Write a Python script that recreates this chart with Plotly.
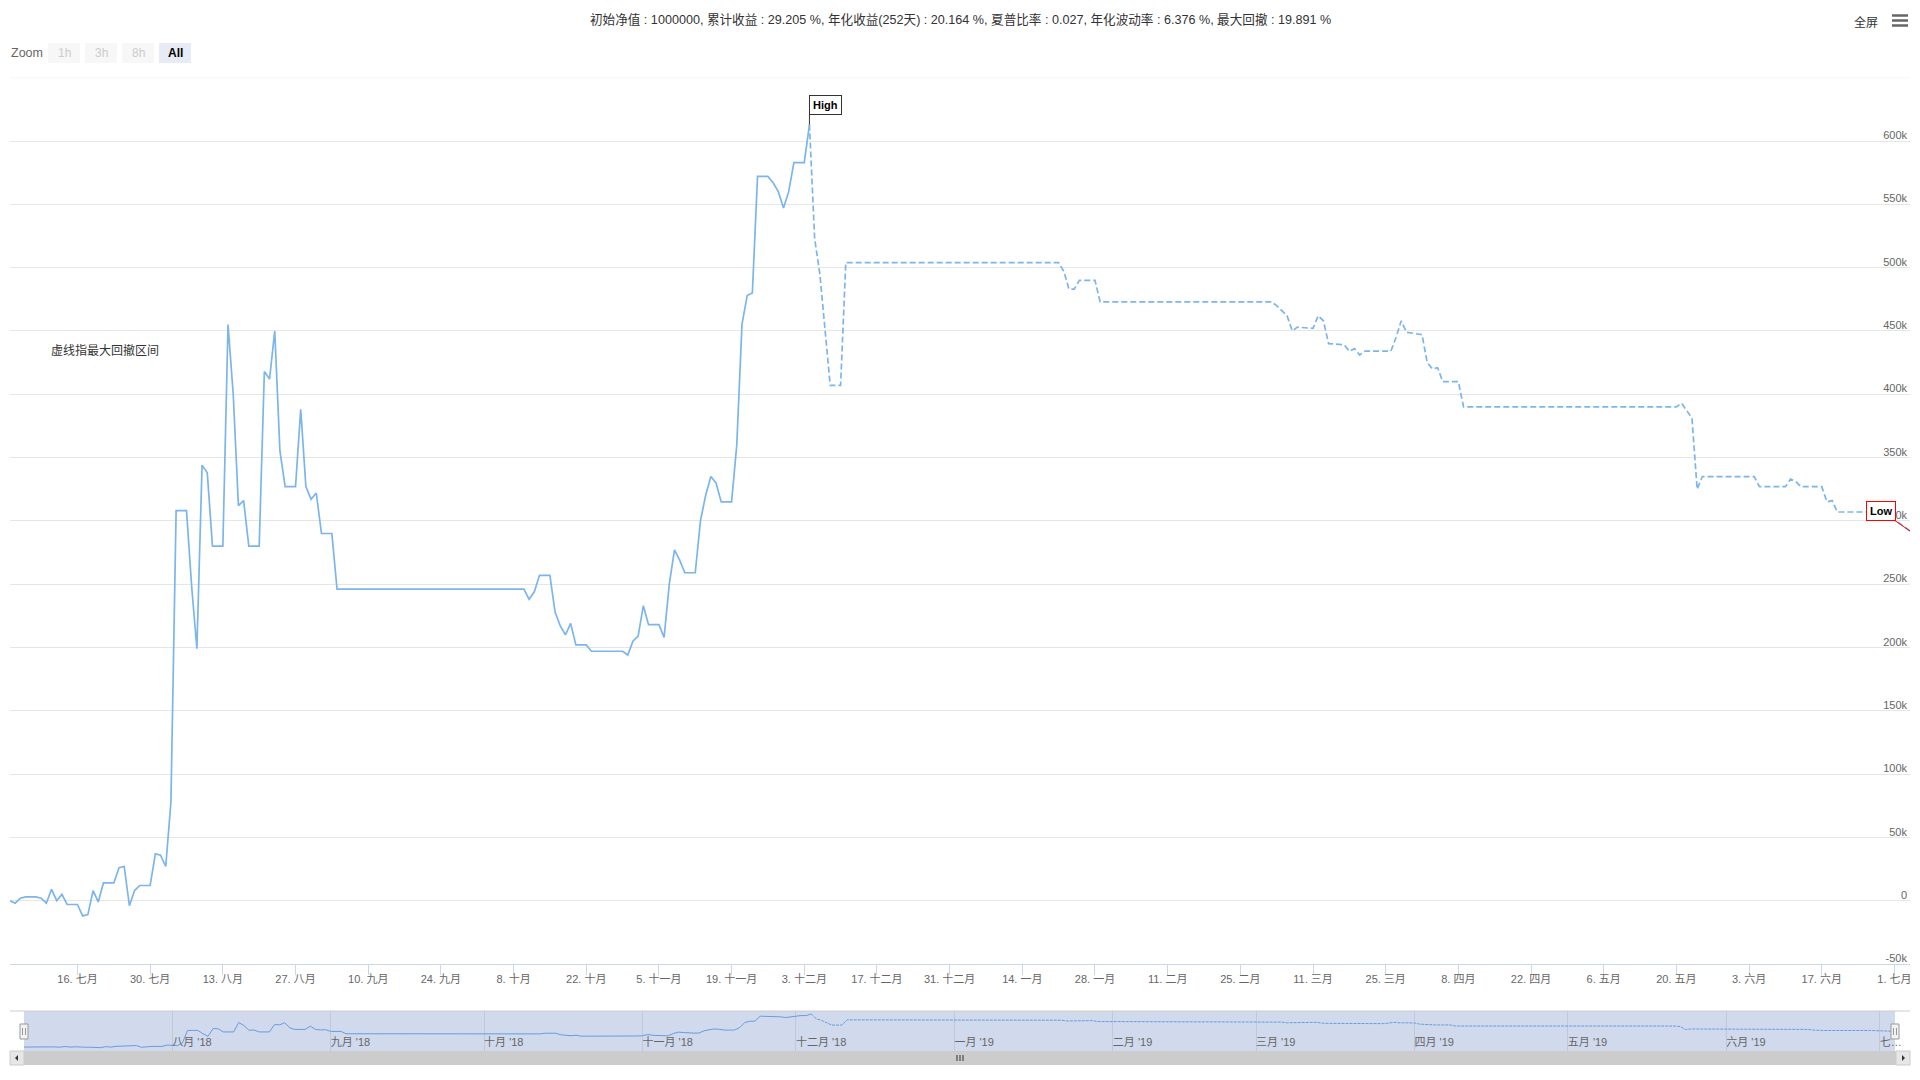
import plotly.graph_objects as go

# ---------------- data ----------------
dates = [
    "2018-07-03", "2018-07-04", "2018-07-05", "2018-07-06", "2018-07-07", "2018-07-08", "2018-07-09",
    "2018-07-10", "2018-07-11", "2018-07-12", "2018-07-13", "2018-07-14", "2018-07-15", "2018-07-16",
    "2018-07-17", "2018-07-18", "2018-07-19", "2018-07-20", "2018-07-21", "2018-07-22", "2018-07-23",
    "2018-07-24", "2018-07-25", "2018-07-26", "2018-07-27", "2018-07-28", "2018-07-29", "2018-07-30",
    "2018-07-31", "2018-08-01", "2018-08-02", "2018-08-03", "2018-08-04", "2018-08-05", "2018-08-06",
    "2018-08-07", "2018-08-08", "2018-08-09", "2018-08-10", "2018-08-11", "2018-08-12", "2018-08-13",
    "2018-08-14", "2018-08-15", "2018-08-16", "2018-08-17", "2018-08-18", "2018-08-19", "2018-08-20",
    "2018-08-21", "2018-08-22", "2018-08-23", "2018-08-24", "2018-08-25", "2018-08-26", "2018-08-27",
    "2018-08-28", "2018-08-29", "2018-08-30", "2018-08-31", "2018-09-01", "2018-09-02", "2018-09-03",
    "2018-09-04", "2018-10-10", "2018-10-11", "2018-10-12", "2018-10-13", "2018-10-14", "2018-10-15",
    "2018-10-16", "2018-10-17", "2018-10-18", "2018-10-19", "2018-10-20", "2018-10-21", "2018-10-22",
    "2018-10-23", "2018-10-29", "2018-10-30", "2018-10-31", "2018-11-01", "2018-11-02", "2018-11-03",
    "2018-11-04", "2018-11-05", "2018-11-06", "2018-11-07", "2018-11-08", "2018-11-09", "2018-11-10",
    "2018-11-11", "2018-11-12", "2018-11-13", "2018-11-14", "2018-11-15", "2018-11-16", "2018-11-17",
    "2018-11-18", "2018-11-19", "2018-11-20", "2018-11-21", "2018-11-22", "2018-11-23", "2018-11-24",
    "2018-11-25", "2018-11-26", "2018-11-27", "2018-11-28", "2018-11-29", "2018-11-30", "2018-12-01",
    "2018-12-02", "2018-12-03", "2018-12-04", "2018-12-05", "2018-12-06", "2018-12-07", "2018-12-08",
    "2018-12-09", "2018-12-10", "2018-12-11", "2019-01-21", "2019-01-22", "2019-01-23", "2019-01-24",
    "2019-01-25", "2019-01-28", "2019-01-29", "2019-03-03", "2019-03-04", "2019-03-05", "2019-03-06",
    "2019-03-07", "2019-03-08", "2019-03-11", "2019-03-12", "2019-03-13", "2019-03-14", "2019-03-17",
    "2019-03-18", "2019-03-19", "2019-03-20", "2019-03-21", "2019-03-26", "2019-03-27", "2019-03-28",
    "2019-03-29", "2019-04-01", "2019-04-02", "2019-04-03", "2019-04-04", "2019-04-05", "2019-04-08",
    "2019-04-09", "2019-05-20", "2019-05-21", "2019-05-22", "2019-05-23", "2019-05-24", "2019-05-25",
    "2019-06-04", "2019-06-05", "2019-06-10", "2019-06-11", "2019-06-12", "2019-06-13", "2019-06-17",
    "2019-06-18", "2019-06-19", "2019-06-20", "2019-06-29", "2019-06-30", "2019-07-01", "2019-07-02",
    "2019-07-03", "2019-07-04",
]
values = [
    0, -2000, 2000, 3000, 3000, 3000, 2000,
    -2000, 9000, 0, 5000, -3000, -3000, -3000,
    -12000, -11000, 8000, -1000, 14000, 14000, 14000,
    26000, 27000, -4000, 8000, 12000, 12000, 12000,
    37000, 36000, 27000, 78000, 308000, 308000, 308000,
    248000, 199000, 344000, 338000, 280000, 280000, 280000,
    455000, 400000, 312000, 316000, 280000, 280000, 280000,
    418000, 412000, 450000, 355000, 327000, 327000, 327000,
    388000, 327000, 317000, 322000, 290000, 290000, 290000,
    246000, 246000, 238000, 244000, 257000, 257000, 257000,
    228000, 217000, 210000, 219000, 202000, 202000, 202000,
    197000, 197000, 194000, 205000, 209000, 233000, 218000,
    218000, 218000, 208000, 250000, 277000, 269000, 259000,
    259000, 259000, 300000, 320000, 335000, 330000, 315000,
    315000, 315000, 360000, 455000, 478000, 480000, 572000,
    572000, 572000, 567000, 560000, 547000, 560000, 583000,
    583000, 583000, 613000, 523000, 495000, 450000, 407000,
    407000, 407000, 504000, 504000, 497000, 483000, 483000,
    490000, 490000, 473000, 473000, 470000, 466000, 462000,
    450000, 453000, 452000, 462000, 458000, 440000, 439000,
    434000, 436000, 431000, 434000, 434000, 445000, 458000,
    449000, 447000, 425000, 420000, 421000, 410000, 410000,
    390000, 390000, 393000, 387000, 381000, 325000, 335000,
    335000, 327000, 327000, 333000, 331000, 327000, 327000,
    315000, 316000, 307000, 307000, 305000, 301000, 298000,
    295000, 292000,
]

x_tick_dates = [
    "2018-07-16", "2018-07-30", "2018-08-13", "2018-08-27", "2018-09-10", "2018-09-24", "2018-10-08",
    "2018-10-22", "2018-11-05", "2018-11-19", "2018-12-03", "2018-12-17", "2018-12-31", "2019-01-14",
    "2019-01-28", "2019-02-11", "2019-02-25", "2019-03-11", "2019-03-25", "2019-04-08", "2019-04-22",
    "2019-05-06", "2019-05-20", "2019-06-03", "2019-06-17", "2019-07-01",
]
x_tick_labels = [
    "16. 七月", "30. 七月", "13. 八月", "27. 八月", "10. 九月", "24. 九月", "8. 十月",
    "22. 十月", "5. 十一月", "19. 十一月", "3. 十二月", "17. 十二月", "31. 十二月", "14. 一月",
    "28. 一月", "11. 二月", "25. 二月", "11. 三月", "25. 三月", "8. 四月", "22. 四月",
    "6. 五月", "20. 五月", "3. 六月", "17. 六月", "1. 七月",
]
y_tick_values = [-50000, 0, 50000, 100000, 150000, 200000, 250000, 300000, 350000,
                 400000, 450000, 500000, 550000, 600000, 650000]
y_tick_labels = ["-50k", "0", "50k", "100k", "150k", "200k", "250k", "300k", "350k",
                 "400k", "450k", "500k", "550k", "600k", ""]
nav_tick_dates = [
    "2018-08-01", "2018-09-01", "2018-10-01", "2018-11-01", "2018-12-01", "2019-01-01",
    "2019-02-01", "2019-03-01", "2019-04-01", "2019-05-01", "2019-06-01", "2019-07-01",
]
nav_tick_labels = [
    "八月 '18", "九月 '18", "十月 '18", "十一月 '18", "十二月 '18", "一月 '19",
    "二月 '19", "三月 '19", "四月 '19", "五月 '19", "六月 '19", "七…",
]
title_text = ("初始净值 : 1000000, 累计收益 : 29.205 %, 年化收益(252天) : 20.164 %, "
              "夏普比率 : 0.027, 年化波动率 : 6.376 %, 最大回撤 : 19.891 %")
note_text = "虚线指最大回撤区间"
zoom_buttons = ["1h", "3h", "8h", "All"]

# ---------------- helpers (pixel -> paper) ----------------
W, H = 1920, 1080
def px(x):
    return x / W
def py(y):
    return 1 - y / H

FONT = "Liberation Sans, Noto Sans CJK SC, sans-serif"
LINE = "#7cb5ec"

hi = values.index(max(values))
lo = len(values) - 1

fig = go.Figure()
# main series: solid until peak, dashed (max drawdown interval) after
fig.add_trace(go.Scatter(x=dates[:hi + 1], y=values[:hi + 1], mode="lines",
                         line=dict(color=LINE, width=1.7), xaxis="x", yaxis="y", hoverinfo="skip"))
fig.add_trace(go.Scatter(x=dates[hi:], y=values[hi:], mode="lines",
                         line=dict(color=LINE, width=1.7, dash="6px,3px"), xaxis="x", yaxis="y",
                         hoverinfo="skip"))
# navigator series
fig.add_trace(go.Scatter(x=dates[:hi + 1], y=values[:hi + 1], mode="lines",
                         line=dict(color="#6a9ae0", width=1), xaxis="x2", yaxis="y2", hoverinfo="skip"))
fig.add_trace(go.Scatter(x=dates[hi:], y=values[hi:], mode="lines",
                         line=dict(color="#6a9ae0", width=1, dash="3px,1px"), xaxis="x2", yaxis="y2",
                         hoverinfo="skip"))

shapes = []
annotations = []

# top gridline (range edge)
shapes.append(dict(type="line", xref="x domain", yref="y", x0=0, x1=1, y0=y_tick_values[-1],
                   y1=y_tick_values[-1], line=dict(color="#e6e6e6", width=1), layer="below"))

# navigator background mask
shapes.append(dict(type="rect", xref="x2 domain", yref="y2 domain", x0=0, x1=1, y0=0, y1=1,
                   fillcolor="#d1daed", line=dict(width=0), layer="below"))
# navigator outline top
shapes.append(dict(type="line", xref="paper", yref="paper", x0=px(10), x1=px(1910), y0=py(1011), y1=py(1011),
                   line=dict(color="#cccccc", width=1)))
# scrollbar
shapes.append(dict(type="rect", xref="paper", yref="paper", x0=px(10), x1=px(1910), y0=py(1065), y1=py(1051),
                   fillcolor="#f2f2f2", line=dict(width=0)))
shapes.append(dict(type="rect", xref="paper", yref="paper", x0=px(24), x1=px(1896), y0=py(1065), y1=py(1051),
                   fillcolor="#cccccc", line=dict(width=0)))
for bx0, bx1 in ((10, 24), (1896, 1910)):
    shapes.append(dict(type="rect", xref="paper", yref="paper", x0=px(bx0), x1=px(bx1), y0=py(1065), y1=py(1051),
                       fillcolor="#e6e6e6", line=dict(color="#cccccc", width=1)))
# scrollbar arrows
shapes.append(dict(type="path", xref="paper", yref="paper",
                   path=f"M{px(15)},{py(1058)} L{px(18)},{py(1055)} L{px(18)},{py(1061)} Z",
                   fillcolor="#333333", line=dict(width=0)))
shapes.append(dict(type="path", xref="paper", yref="paper",
                   path=f"M{px(1905)},{py(1058)} L{px(1902)},{py(1055)} L{px(1902)},{py(1061)} Z",
                   fillcolor="#333333", line=dict(width=0)))
# scrollbar grip
for gx in (957, 960, 963):
    shapes.append(dict(type="line", xref="paper", yref="paper", x0=px(gx), x1=px(gx), y0=py(1055), y1=py(1061),
                       line=dict(color="#333333", width=1)))
# navigator handles
for hx in (24, 1895):
    shapes.append(dict(type="rect", xref="paper", yref="paper", x0=px(hx - 4), x1=px(hx + 4),
                       y0=py(1039), y1=py(1024), fillcolor="#f2f2f2", line=dict(color="#999999", width=1)))
    for gx in (hx - 1.5, hx + 1.5):
        shapes.append(dict(type="line", xref="paper", yref="paper", x0=px(gx), x1=px(gx),
                           y0=py(1035), y1=py(1028), line=dict(color="#999999", width=1)))

# hamburger menu
for hy in (15.5, 20.5, 25.5):
    shapes.append(dict(type="line", xref="paper", yref="paper", x0=px(1892), x1=px(1908), y0=py(hy), y1=py(hy),
                       line=dict(color="#666666", width=2.5)))

# zoom buttons
btn_x = [(48, 80), (85, 117), (122, 154), (159, 191)]
for label, (bx0, bx1) in zip(zoom_buttons, btn_x):
    active = label == "All"
    shapes.append(dict(type="rect", xref="paper", yref="paper", x0=px(bx0), x1=px(bx1), y0=py(63), y1=py(43),
                       fillcolor="#e6ebf5" if active else "#f7f7f7", line=dict(width=0)))
    annotations.append(dict(xref="paper", yref="paper", x=px((bx0 + bx1) / 2), y=py(53),
                            text=f"<b>{label}</b>" if active else label, showarrow=False,
                            xanchor="center", yanchor="middle",
                            font=dict(family=FONT, size=12, color="#000000" if active else "#cccccc")))
annotations.append(dict(xref="paper", yref="paper", x=px(9), y=py(53), text="Zoom", showarrow=False,
                        xanchor="left", yanchor="middle", font=dict(family=FONT, size=12.5, color="#666666")))

# title and labels
annotations.append(dict(xref="paper", yref="paper", x=0.5, y=py(20), text=title_text, showarrow=False,
                        xanchor="center", yanchor="middle", font=dict(family=FONT, size=12.6, color="#333333")))
annotations.append(dict(xref="paper", yref="paper", x=px(1880), y=py(22), text="全屏", showarrow=False,
                        xanchor="right", yanchor="middle", font=dict(family=FONT, size=12, color="#333333")))
annotations.append(dict(xref="paper", yref="paper", x=px(49), y=py(350), text=note_text, showarrow=False,
                        xanchor="left", yanchor="middle", font=dict(family=FONT, size=12, color="#333333")))

# High flag
annotations.append(dict(xref="x", yref="y", x=dates[hi], y=values[hi], text="<b>High</b>", showarrow=False,
                        xanchor="left", yanchor="bottom", yshift=10, bgcolor="#ffffff", bordercolor="#333333",
                        borderwidth=1, borderpad=3, font=dict(family=FONT, size=11, color="#000000")))
shapes.append(dict(type="line", xref="x", yref="y", x0=dates[hi], x1=dates[hi], ysizemode="pixel",
                   yanchor=values[hi], y0=0, y1=11, line=dict(color="#333333", width=1)))
# Low flag
annotations.append(dict(xref="x", yref="y", x=dates[lo], y=values[lo], text="<b>Low</b>", showarrow=True,
                        arrowhead=0, arrowwidth=1, arrowcolor="#ff0000", ax=-29, ay=-20,
                        bgcolor="#ffffff", bordercolor="#ff0000", borderwidth=1, borderpad=3,
                        font=dict(family=FONT, size=11, color="#000000")))

fig.update_layout(
    width=W, height=H, autosize=False,
    margin=dict(l=0, r=0, t=0, b=0, pad=0),
    paper_bgcolor="#ffffff", plot_bgcolor="#ffffff",
    showlegend=False,
    font=dict(family=FONT, size=11, color="#666666"),
    xaxis=dict(type="date", domain=[px(10), px(1910)], range=[dates[0], dates[-1]], anchor="y",
               tickmode="array", tickvals=x_tick_dates, ticktext=x_tick_labels,
               ticks="outside", ticklen=10, tickcolor="#ccd6eb", tickwidth=1,
               ticklabelstandoff=-5, ticklabeloverflow="allow",
               showline=True, linecolor="#ccd6eb", linewidth=1, showgrid=False, zeroline=False,
               tickfont=dict(family=FONT, size=11, color="#666666"), fixedrange=True, automargin=False),
    yaxis=dict(domain=[py(964), py(77.7)], range=[-50000, 650000], anchor="x", side="right",
               tickmode="array", tickvals=y_tick_values, ticktext=y_tick_labels,
               ticklabelposition="inside top", ticklabelshift=2, ticklabeloverflow="allow",
               showgrid=True, gridcolor="#e6e6e6", gridwidth=1,
               showline=False, zeroline=False, ticks="",
               tickfont=dict(family=FONT, size=11, color="#666666"), fixedrange=True, automargin=False),
    xaxis2=dict(type="date", domain=[px(24), px(1895)], range=[dates[0], dates[-1]], anchor="y2",
                tickmode="array", tickvals=nav_tick_dates, ticktext=nav_tick_labels,
                ticklabelposition="inside right", ticklabelstandoff=-3, ticklabeloverflow="allow",
                ticks="", showgrid=True, gridcolor="#bfc8da",
                showline=False, zeroline=False,
                tickfont=dict(family=FONT, size=11, color="#666666"), fixedrange=True, automargin=False),
    yaxis2=dict(domain=[py(1051), py(1011)], range=[-73000, 668000], anchor="x2",
                showticklabels=False, showgrid=False, zeroline=False, showline=False, ticks="",
                fixedrange=True),
    shapes=shapes,
    annotations=annotations,
)

fig.write_html("out.html", config={"displayModeBar": False},
               post_script=("document.body.style.margin='0';"
                            "var gd=document.getElementById('{plot_id}');"
                            "Plotly.newPlot(gd, gd.data, gd.layout, {displayModeBar:false});"))
